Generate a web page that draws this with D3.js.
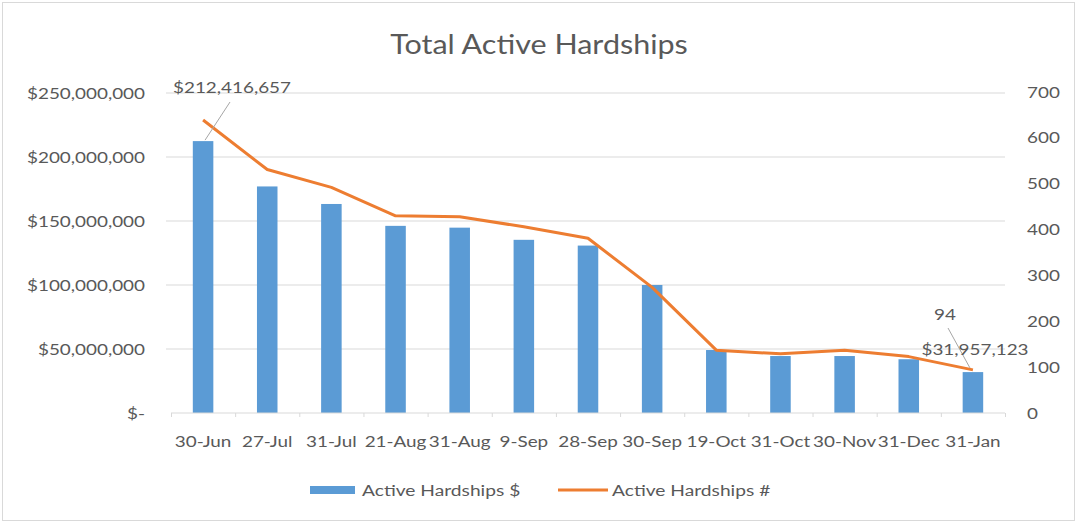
<!DOCTYPE html>
<html><head><meta charset="utf-8">
<script src="https://cdn.jsdelivr.net/npm/d3@7"></script>
<style>body{margin:0;background:#fff}svg text{font-family:Lato,"Open Sans",sans-serif}</style>
</head><body><svg id="c" width="1084" height="524"></svg>
<script>
const categories = ["30-Jun","27-Jul","31-Jul","21-Aug","31-Aug","9-Sep","28-Sep","30-Sep","19-Oct","31-Oct","30-Nov","31-Dec","31-Jan"];
const dollars = [212416657,177000000,163300000,146200000,144800000,135300000,130800000,100000000,49200000,44500000,44500000,42000000,31957123];
const counts = [639,531,492,430,428,406,381,274,137,129,137,123,94];
const leftTicks = [0,50000000,100000000,150000000,200000000,250000000];
const rightTicks = [0,100,200,300,400,500,600,700];

const svg = d3.select("#c");
const gray = "#595959";
const SX = 1.18;
function label(g, x, y, txt, size, anchor, sx) {
  return g.append("text")
    .attr("transform", `translate(${x},${y}) scale(${sx||SX},1)`)
    .attr("dy","0.35em").attr("text-anchor",anchor||"start")
    .attr("font-size",size).attr("fill",gray).text(txt);
}
svg.append("rect").attr("x",2.5).attr("y",2.5).attr("width",1072).attr("height",518).attr("fill","#fff").attr("stroke","#d9d9d9");

const x = d3.scaleBand().domain(categories).range([171,1005]).paddingInner(0.68).paddingOuter(0.34);
const xc = d3.scalePoint().domain(categories).range([171,1005]).padding(0.5);
const yL = d3.scaleLinear().domain([0,250000000]).range([413,93]);
const yR = d3.scaleLinear().domain([0,700]).range([413,92]);

// gridlines
svg.append("g").selectAll("line").data(leftTicks.slice(1)).join("line")
  .attr("x1",166).attr("x2",1005).attr("y1",d=>yL(d)).attr("y2",d=>yL(d))
  .attr("stroke","#d9d9d9").attr("stroke-width",1);

// left axis labels
const fmtL = d => d===0 ? "$-" : "$" + d3.format(",")(d);
const gl = svg.append("g");
leftTicks.forEach(d => label(gl, 145, yL(d), fmtL(d), 16, "end"));

// right axis labels
const gr = svg.append("g");
rightTicks.forEach(d => label(gr, 1027, yR(d), d, 16, "start"));

// bars
svg.append("g").selectAll("rect").data(dollars).join("rect")
  .attr("x",(d,i)=>x(categories[i])).attr("width",x.bandwidth())
  .attr("y",d=>yL(d)).attr("height",d=>yL(0)-yL(d)).attr("fill","#5b9bd5");

// baseline
const xAxis = d3.axisBottom(d3.scaleLinear().domain([0,categories.length]).range([171,1005]))
  .ticks(categories.length).tickSize(4).tickFormat("");
const ga = svg.append("g").attr("transform","translate(0,413)").call(xAxis);
ga.selectAll("line,path").attr("stroke","#d9d9d9");
ga.select("path").attr("d","M171,0H1005");

// x labels
const gx = svg.append("g");
categories.forEach(d => label(gx, xc(d), 441, d, 16, "middle"));

// line
const line = d3.line().x((d,i)=>xc(categories[i])).y(d=>yR(d));
svg.append("path").datum(counts).attr("d",line).attr("fill","none")
  .attr("stroke","#ed7d31").attr("stroke-width",3).attr("stroke-linejoin","round");

// title
label(svg, 539, 45, "Total Active Hardships", 27, "middle", 1.13);

// annotations
const lastI = categories.length-1;
svg.append("line").attr("x1",230).attr("y1",102).attr("x2",xc(categories[0])+2).attr("y2",yL(dollars[0])-1)
  .attr("stroke","#a6a6a6").attr("stroke-width",1);
label(svg, 232, 87, "$" + d3.format(",")(dollars[0]), 16, "middle");
svg.append("line").attr("x1",948).attr("y1",328).attr("x2",xc(categories[lastI])-3).attr("y2",yR(counts[lastI])-2)
  .attr("stroke","#a6a6a6").attr("stroke-width",1);
label(svg, 945, 314, counts[lastI], 16, "middle");
label(svg, 975, 349, "$" + d3.format(",")(dollars[lastI]), 16, "middle");

// legend
svg.append("rect").attr("x",310).attr("y",486).attr("width",45).attr("height",8).attr("fill","#5b9bd5");
label(svg, 362, 490, "Active Hardships $", 16, "start", 1.2);
svg.append("line").attr("x1",558).attr("x2",608).attr("y1",490).attr("y2",490).attr("stroke","#ed7d31").attr("stroke-width",3);
label(svg, 612, 490, "Active Hardships #", 16, "start", 1.2);
</script></body></html>
